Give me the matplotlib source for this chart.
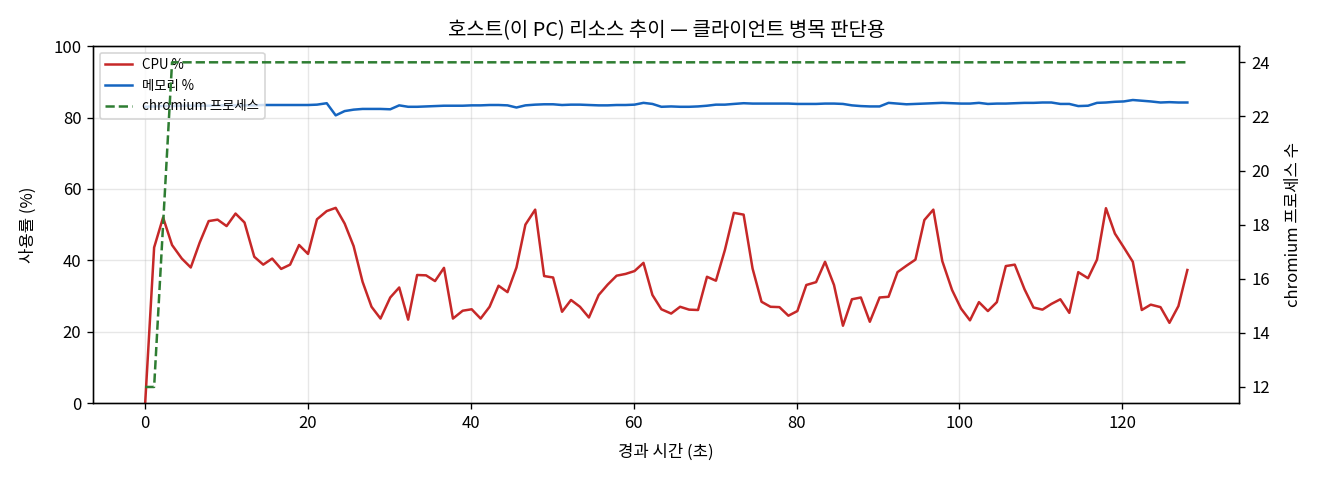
import numpy as np
import matplotlib
matplotlib.use("Agg")
import matplotlib.pyplot as plt

plt.rcParams['font.family'] = ['Noto Sans CJK KR', 'DejaVu Sans']
plt.rcParams['axes.unicode_minus'] = False

# elapsed time (s)
elapsed = [0.0, 1.1, 2.2, 3.3, 4.5, 5.6, 6.7, 7.8, 8.9, 10.0,
           11.1, 12.2, 13.4, 14.5, 15.6, 16.7, 17.8, 18.9, 20.0, 21.1,
           22.3, 23.4, 24.5, 25.6, 26.7, 27.8, 28.9, 30.1, 31.2, 32.3,
           33.4, 34.5, 35.6, 36.7, 37.8, 39.0, 40.1, 41.2, 42.3, 43.4,
           44.5, 45.6, 46.7, 47.9, 49.0, 50.1, 51.2, 52.3, 53.4, 54.5,
           55.7, 56.8, 57.9, 59.0, 60.1, 61.2, 62.3, 63.4, 64.6, 65.7,
           66.8, 67.9, 69.0, 70.1, 71.2, 72.3, 73.5, 74.6, 75.7, 76.8,
           77.9, 79.0, 80.1, 81.2, 82.4, 83.5, 84.6, 85.7, 86.8, 87.9,
           89.0, 90.2, 91.3, 92.4, 93.5, 94.6, 95.7, 96.8, 97.9, 99.1,
           100.2, 101.3, 102.4, 103.5, 104.6, 105.7, 106.8, 108.0, 109.1, 110.2,
           111.3, 112.4, 113.5, 114.6, 115.8, 116.9, 118.0, 119.1, 120.2, 121.3,
           122.4, 123.5, 124.7, 125.8, 126.9, 128.0]

cpu = [0.0, 43.6, 52.0, 44.3, 40.5, 38.0, 45.0, 51.0, 51.4, 49.6,
       53.1, 50.6, 41.0, 38.8, 40.5, 37.6, 38.8, 44.3, 41.8, 51.5,
       53.8, 54.7, 50.3, 44.0, 34.0, 27.0, 23.7, 29.6, 32.4, 23.4,
       35.9, 35.8, 34.2, 37.9, 23.7, 25.9, 26.3, 23.7, 27.0, 32.9,
       31.1, 38.0, 50.0, 54.2, 35.6, 35.2, 25.6, 28.9, 27.0, 24.0,
       30.3, 33.2, 35.7, 36.2, 37.0, 39.3, 30.3, 26.3, 25.1, 27.0,
       26.2, 26.1, 35.4, 34.3, 42.9, 53.3, 52.8, 37.7, 28.4, 27.0,
       26.9, 24.5, 25.8, 33.1, 33.9, 39.6, 33.1, 21.7, 29.1, 29.6,
       22.8, 29.6, 29.8, 36.7, 38.5, 40.2, 51.3, 54.2, 39.8, 31.7,
       26.5, 23.2, 28.3, 25.8, 28.3, 38.4, 38.8, 31.9, 26.8, 26.2,
       27.8, 29.1, 25.3, 36.7, 35.0, 40.2, 54.6, 47.5, 43.6, 39.6,
       26.1, 27.6, 26.9, 22.5, 27.2, 37.3]

mem = [83.0, 83.1, 83.2, 83.2, 83.3, 83.3, 83.3, 83.3, 83.4, 83.4,
       83.4, 83.4, 83.4, 83.5, 83.5, 83.5, 83.5, 83.5, 83.5, 83.6,
       84.0, 80.6, 81.8, 82.2, 82.4, 82.4, 82.4, 82.3, 83.4, 83.0,
       83.0, 83.1, 83.2, 83.3, 83.3, 83.3, 83.4, 83.4, 83.5, 83.5,
       83.4, 82.8, 83.4, 83.6, 83.7, 83.7, 83.5, 83.6, 83.6, 83.5,
       83.4, 83.4, 83.5, 83.5, 83.6, 84.1, 83.8, 83.0, 83.1, 83.0,
       83.0, 83.1, 83.3, 83.6, 83.6, 83.8, 84.0, 83.9, 83.9, 83.9,
       83.9, 83.9, 83.8, 83.8, 83.8, 83.9, 83.9, 83.8, 83.4, 83.2,
       83.1, 83.1, 84.1, 83.9, 83.7, 83.8, 83.9, 84.0, 84.1, 84.0,
       83.9, 83.9, 84.1, 83.8, 83.9, 83.9, 84.0, 84.1, 84.1, 84.2,
       84.2, 83.8, 83.8, 83.2, 83.3, 84.1, 84.2, 84.4, 84.5, 84.9,
       84.7, 84.5, 84.2, 84.3, 84.2, 84.2]

chromium = [12, 12, 18] + [24] * 113

fig, ax = plt.subplots(figsize=(11, 4), dpi=120)
fig.subplots_adjust(left=0.0705, right=0.939, top=0.904, bottom=0.160)

l1, = ax.plot(elapsed, cpu, color='#c62828', lw=1.5, label='CPU %')
l2, = ax.plot(elapsed, mem, color='#1565c0', lw=1.5, label='메모리 %')
ax.set_ylim(0, 100)
ax.set_xlabel('경과 시간 (초)', labelpad=7)
ax.set_ylabel('사용률 (%)', labelpad=10)
ax.grid(True, alpha=0.3)

ax2 = ax.twinx()
l3, = ax2.plot(elapsed, chromium, color='#2e7d32', lw=1.5, ls='--', label='chromium 프로세스')
ax2.set_ylabel('chromium 프로세스 수', labelpad=9)

ax.legend(handles=[l1, l2, l3], loc='upper left', fontsize=8)
ax.set_title('호스트(이 PC) 리소스 추이 — 클라이언트 병목 판단용', fontsize=12)

plt.savefig('out.png', dpi=120)
